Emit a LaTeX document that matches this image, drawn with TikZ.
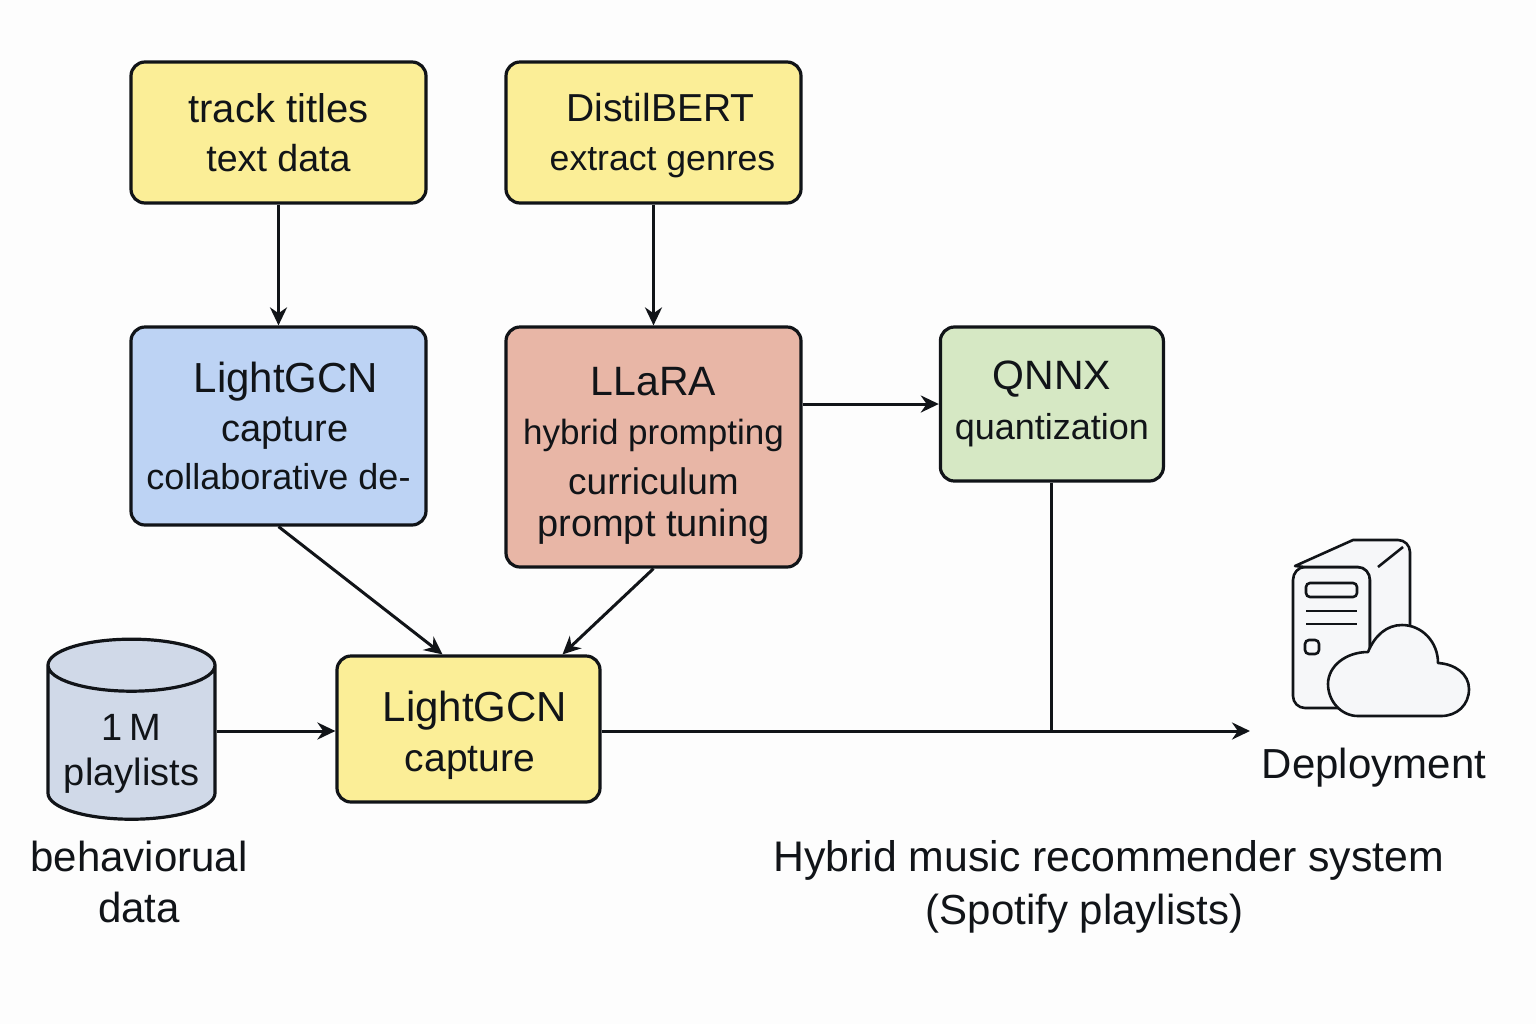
\documentclass[tikz,border=0pt]{standalone}
\usepackage{xcolor}
\usepackage{fontspec}
\setmainfont{Liberation Sans}
\usetikzlibrary{shapes,arrows.meta,positioning}

\definecolor{bgcol}{HTML}{FDFDFD}
\definecolor{yellowbox}{HTML}{FBEE97}
\definecolor{bluebox}{HTML}{BDD3F4}
\definecolor{redbox}{HTML}{E8B6A6}
\definecolor{greenbox}{HTML}{D6E8C4}
\definecolor{dbcol}{HTML}{D0D9E8}
\definecolor{iconcol}{HTML}{F6F7F9}
\definecolor{inkcol}{HTML}{111418}

\newcommand{\fs}[1]{\fontsize{#1}{20pt}\selectfont}

\begin{document}
\begin{tikzpicture}[
    x=0.5pt, y=-0.5pt,
    node distance=60.4pt and 38.4pt,
    >={Stealth[length=9pt,width=8.5pt]},
    box/.style={rectangle, draw=inkcol, line width=1.6pt, rounded corners=7pt, align=center, inner sep=0pt, text=inkcol},
    wide/.style={box, minimum width=147.5pt},
    plain/.style={align=center, inner sep=0pt, text=inkcol},
    db/.style={cylinder, draw=inkcol, line width=1.6pt, fill=dbcol, shape border rotate=90, aspect=0.385, minimum width=83.5pt, minimum height=87.5pt, align=center, inner sep=0pt, text=inkcol},
    link/.style={->, draw=inkcol, line width=1.5pt},
    icon/.style={draw=inkcol, line width=1.3pt, fill=iconcol, line join=round}
]
\fill[bgcol] (0,0) rectangle (1536,1024);
\useasboundingbox (0,0) rectangle (1536,1024);

% Input layer
\node[wide, fill=yellowbox, minimum height=70.5pt] (titles) at (278.5,132.5) {\fs{20}track titles\\[9.5pt]\fs{18.8}text data};
\node[wide, fill=yellowbox, minimum height=70.5pt, right=of titles] (distil) {\rule{0pt}{17.2pt}\hspace*{7pt}\fs{19.5}DistilBERT\\[12.5pt]\hspace*{9pt}\fs{17.8}extract genres};

% Model layer
\node[wide, fill=bluebox, minimum height=99pt, below=of titles] (gcn) {\hspace*{7.5pt}\fs{21}LightGCN\\[7pt]\hspace*{6.5pt}\fs{19}capture\\[6pt]\fs{18}collaborative de-};
\node[wide, fill=redbox, minimum height=120pt, below=of distil] (llara) {\rule{0pt}{22.7pt}\fs{20.5}LLaRA\\[10.5pt]\fs{17.5}hybrid prompting\\[7pt]\fs{18.5}curriculum\\[6pt]\fs{19}prompt tuning};
\node[box, fill=greenbox, minimum width=111.5pt, minimum height=77pt, right=of llara, xshift=29.7pt, yshift=21.5pt] (qnnx) {\fs{20.5}QNNX\\[7pt]\fs{18}quantization};

% Fusion layer
\node[box, fill=yellowbox, minimum width=131.5pt, minimum height=73pt] (fusion) at (468.5,729) {\rule{0pt}{21.5pt}\hspace*{6.5pt}\fs{21}LightGCN\\[7.5pt]\hspace*{1.5pt}\fs{19.5}capture};
\node[db] (playlists) at (131.5,743) {\rule{0pt}{24pt}\fs{19}1\,M\\[7.5pt]\fs{19}playlists};

% Free labels
\node[plain] (behav) at (139,882) {\fs{21}behaviorual\\[9.5pt]\fs{21}data};
\node[plain] (deploy) at (1374,768) {\fs{21}Deployment};
\node[plain] (caption) at (1108.5,887) {\fs{21.4}Hybrid music recommender system\\[6pt]\hspace*{-24pt}\fs{21}(Spotify playlists)};

% Free ends of the output line
\coordinate (out) at (1250,731);
\coordinate (merge) at (qnnx.south |- out);

% Connections - inputs to models
\draw[link] (titles.south) -- (gcn.north);
\draw[link] (distil.south) -- (llara.north);

% Connections - models to fusion
\draw[link] (gcn.south) -- ([xshift=-13pt]fusion.north);
\draw[link] (llara.south) -- ([xshift=47pt]fusion.north);
\draw[link] (llara.east |- qnnx.west) -- (qnnx.west);
\draw[link] (playlists.east |- out) -- (fusion.west |- out);

% Connections - output
\draw[link] (fusion.east |- out) -- (out);
\draw[draw=inkcol, line width=1.5pt] (qnnx.south) -- (merge);

% Deployment icon
\draw[icon] (1293,580) to[out=90,in=180] (1305,567) -- (1358,567) to[out=0,in=90] (1370,580) -- (1370,708) -- (1305,708) to[out=180,in=270] (1293,696) -- cycle;
\draw[icon] (1295,566) -- (1353,540) -- (1398,540) to[out=0,in=90] (1410,552) -- (1410,640) -- (1370,660) -- (1370,580) to[out=90,in=0] (1358,567) -- (1305,567) -- cycle;
\draw[draw=inkcol, line width=1.3pt] (1378,567) -- (1403,547);
\draw[draw=inkcol, line width=1.3pt, rounded corners=2pt] (1306,583) rectangle (1357,597);
\draw[draw=inkcol, line width=1.3pt] (1306,611) -- (1357,611);
\draw[draw=inkcol, line width=1.3pt] (1306,624) -- (1357,624);
\draw[draw=inkcol, line width=1.3pt, rounded corners=2pt] (1305,640) rectangle (1319,654);
\draw[icon] (1368,652) .. controls (1375,635) and (1387,625) .. (1402,625)
    .. controls (1422,625) and (1438,642) .. (1438,663)
    .. controls (1455,664) and (1469,674) .. (1469,689)
    .. controls (1469,705) and (1457,716) .. (1441,716)
    -- (1358,716)
    .. controls (1341,716) and (1328,701) .. (1328,684)
    .. controls (1328,666) and (1346,652) .. (1368,652) -- cycle;

\end{tikzpicture}
\end{document}
